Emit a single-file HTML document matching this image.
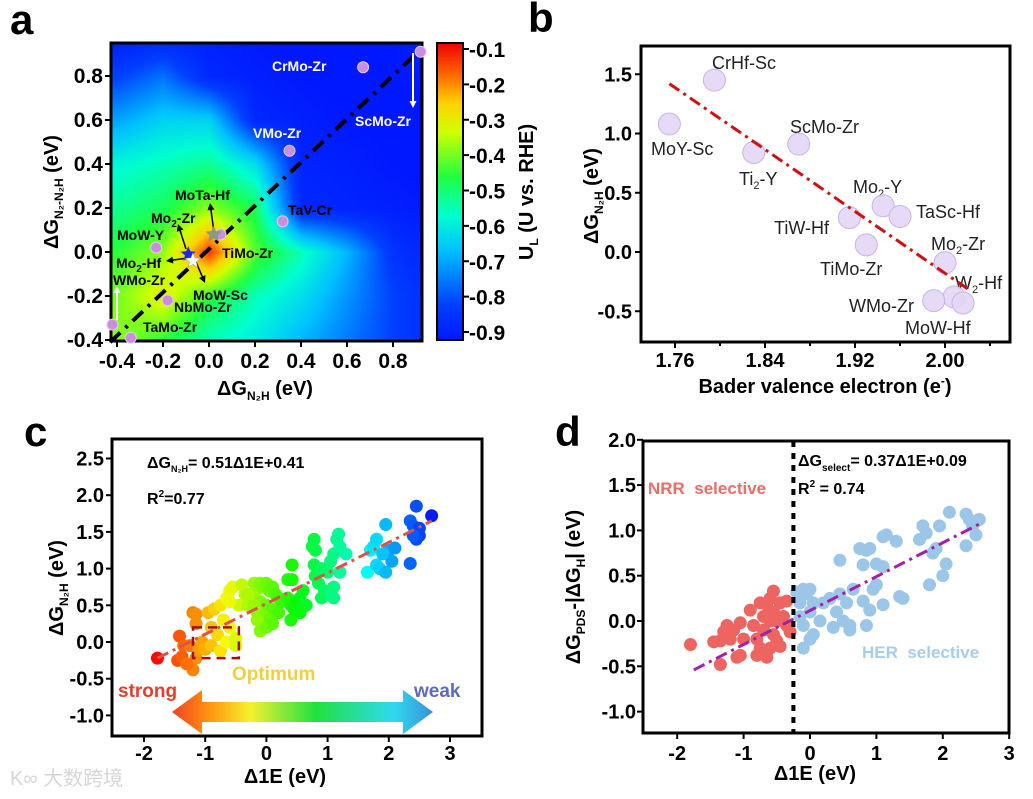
<!DOCTYPE html>
<html><head><meta charset="utf-8"><style>
html,body{margin:0;padding:0;background:#fff;width:1033px;height:799px;overflow:hidden}
#wrap{position:relative;width:1033px;height:799px}
canvas{position:absolute;left:111px;top:43px}
svg{position:absolute;left:0;top:0}
text{font-family:"Liberation Sans",Arial,sans-serif}
.b{font-weight:bold}
</style></head><body>
<div id="wrap">
<canvas id="heat" width="311" height="298"></canvas>
<svg id="svg" width="1033" height="799" viewBox="0 0 1033 799">
<defs>
<linearGradient id="cbar" x1="0" y1="1" x2="0" y2="0">
<stop offset="0" stop-color="#0018ff"/><stop offset="0.12" stop-color="#0040ff"/><stop offset="0.3" stop-color="#00c0ff"/><stop offset="0.42" stop-color="#00ffd0"/><stop offset="0.55" stop-color="#20ff40"/><stop offset="0.7" stop-color="#d0ff00"/><stop offset="0.8" stop-color="#ffd000"/><stop offset="0.9" stop-color="#ff6000"/><stop offset="1" stop-color="#f00000"/>
</linearGradient>
<linearGradient id="arrg" x1="0" y1="0" x2="1" y2="0">
<stop offset="0" stop-color="#f04020"/><stop offset="0.15" stop-color="#ff9a10"/><stop offset="0.3" stop-color="#f5f030"/><stop offset="0.55" stop-color="#20e040"/><stop offset="0.85" stop-color="#30d8f0"/><stop offset="1" stop-color="#3a90d8"/>
</linearGradient>
</defs>
<text x="10" y="34" font-size="42" class="b">a</text>
<text x="528" y="32" font-size="42" class="b">b</text>
<text x="24" y="446" font-size="42" class="b">c</text>
<text x="555" y="446" font-size="42" class="b">d</text>

<text x="265" y="395" font-size="20" class="b" text-anchor="middle">ΔG<tspan font-size="12" dy="5">N₂H</tspan><tspan dy="-5"> (eV)</tspan></text>
<text transform="translate(58,192) rotate(-90)" font-size="20" class="b" text-anchor="middle">ΔG<tspan font-size="12" dy="5">N₂-N₂H</tspan><tspan dy="-5"> (eV)</tspan></text>
<text transform="translate(533,192) rotate(-90)" font-size="20" class="b" text-anchor="middle">U<tspan font-size="12" dy="5">L</tspan><tspan dy="-5"> (U vs. RHE)</tspan></text>
<rect x="437" y="43" width="26" height="297" fill="url(#cbar)" stroke="#000" stroke-width="2"/>

<g font-size="14" class="b">
<text x="272" y="71" fill="#fff">CrMo-Zr</text>
<text x="355" y="126" fill="#fff">ScMo-Zr</text>
<text x="253" y="138" fill="#fff">VMo-Zr</text>
<text x="288" y="215">TaV-Cr</text>
<text x="175" y="200">MoTa-Hf</text>
<text x="151" y="223">Mo<tspan font-size="10" dy="4">2</tspan><tspan dy="-4">-Zr</tspan></text>
<text x="117" y="240">MoW-Y</text>
<text x="222" y="258">TiMo-Zr</text>
<text x="116" y="268">Mo<tspan font-size="10" dy="4">2</tspan><tspan dy="-4">-Hf</tspan></text>
<text x="113" y="285">WMo-Zr</text>
<text x="193" y="300">MoW-Sc</text>
<text x="174" y="312">NbMo-Zr</text>
<text x="143" y="332">TaMo-Zr</text>
</g>

<text x="825" y="393" font-size="20" class="b" text-anchor="middle">Bader valence electron (e<tspan font-size="12" dy="-8">-</tspan><tspan dy="8">)</tspan></text>
<text transform="translate(598,196) rotate(-90)" font-size="20" class="b" text-anchor="middle">ΔG<tspan font-size="12" dy="5">N₂H</tspan><tspan dy="-5"> (eV)</tspan></text>
<g font-size="18" fill="#222">
<text x="712" y="69">CrHf-Sc</text>
<text x="651" y="155">MoY-Sc</text>
<text x="739" y="185">Ti<tspan font-size="11" dy="4">2</tspan><tspan dy="-4">-Y</tspan></text>
<text x="790" y="133">ScMo-Zr</text>
<text x="853" y="193">Mo<tspan font-size="11" dy="4">2</tspan><tspan dy="-4">-Y</tspan></text>
<text x="916" y="218">TaSc-Hf</text>
<text x="774" y="234">TiW-Hf</text>
<text x="820" y="275">TiMo-Zr</text>
<text x="931" y="250">Mo<tspan font-size="11" dy="4">2</tspan><tspan dy="-4">-Zr</tspan></text>
<text x="955" y="289">W<tspan font-size="11" dy="4">2</tspan><tspan dy="-4">-Hf</tspan></text>
<text x="849" y="312">WMo-Zr</text>
<text x="905" y="334">MoW-Hf</text>
</g>

<text x="285" y="783" font-size="20" class="b" text-anchor="middle">Δ1E (eV)</text>
<text transform="translate(63,588) rotate(-90)" font-size="20" class="b" text-anchor="middle">ΔG<tspan font-size="12" dy="5">N₂H</tspan><tspan dy="-5"> (eV)</tspan></text>
<text x="147" y="468" font-size="16" class="b">ΔG<tspan font-size="9" dy="4">N₂H</tspan><tspan dy="-4">= 0.51Δ1E+0.41</tspan></text>
<text x="147" y="504" font-size="16" class="b">R<tspan font-size="10" dy="-7">2</tspan><tspan dy="7">=0.77</tspan></text>
<text x="232" y="680" font-size="19" class="b" fill="#f2cf3c">Optimum</text>
<text x="118" y="697" font-size="19" class="b" fill="#e0402c">strong</text>
<text x="414" y="697" font-size="19" class="b" fill="#5a6cc0">weak</text>
<path d="M172,712 L202,690 L202,702 L403,702 L403,690 L433,712 L403,734 L403,722 L202,722 L202,734 Z" fill="url(#arrg)"/>

<text x="815" y="780" font-size="20" class="b" text-anchor="middle">Δ1E (eV)</text>
<text transform="translate(580,587) rotate(-90)" font-size="20" class="b" text-anchor="middle">ΔG<tspan font-size="12" dy="5">PDS</tspan><tspan dy="-5">-|ΔG</tspan><tspan font-size="12" dy="5">H</tspan><tspan dy="-5">| (eV)</tspan></text>
<text x="798" y="466" font-size="16" class="b">ΔG<tspan font-size="10" dy="5">select</tspan><tspan dy="-5">= 0.37Δ1E+0.09</tspan></text>
<text x="798" y="494" font-size="16" class="b">R<tspan font-size="10" dy="-7">2</tspan><tspan dy="7"> = 0.74</tspan></text>
<text x="648" y="494" font-size="17" class="b" fill="#ee6b66">NRR&#160;&#160;selective</text>
<text x="862" y="658" font-size="17" class="b" fill="#a8cdeb">HER&#160;&#160;selective</text>

<text x="10" y="785" font-size="20" fill="#d6d6d6" font-family="Liberation Sans, Noto Sans CJK SC, sans-serif">K∞ 大数跨境</text>
<g id="marks"></g>
</svg>
</div>
<script>
const heatGridX = [-0.4,-0.2,0,0.2,0.4,0.6,0.8,1.0];
const heatGridY = [-0.4,-0.2,0,0.2,0.4,0.6,0.8,1.0];
const heatValues = [
 [-0.38,-0.45,-0.55,-0.60,-0.68,-0.75,-0.82,-0.88],
 [-0.40,-0.30,-0.45,-0.55,-0.62,-0.72,-0.82,-0.88],
 [-0.45,-0.38,-0.13,-0.42,-0.55,-0.68,-0.85,-0.90],
 [-0.52,-0.48,-0.38,-0.48,-0.88,-0.89,-0.90,-0.92],
 [-0.58,-0.55,-0.52,-0.62,-0.89,-0.90,-0.92,-0.93],
 [-0.70,-0.64,-0.64,-0.88,-0.90,-0.92,-0.93,-0.94],
 [-0.82,-0.76,-0.88,-0.90,-0.92,-0.93,-0.92,-0.90],
 [-0.92,-0.91,-0.90,-0.92,-0.93,-0.94,-0.92,-0.88]];
const aPointX = [0.67,0.92,0.35,0.32,0.05,-0.23,-0.18,-0.34,-0.42];
const aPointY = [0.84,0.91,0.46,0.14,0.08,0.02,-0.22,-0.39,-0.33];
const aStarX = [0.02,-0.09,-0.07];
const aStarY = [0.08,-0.01,-0.04];
const aStarColor = ['#8a9a80','#1a2ae0','#ffffff'];
const aTicks = [-0.4,-0.2,0.0,0.2,0.4,0.6,0.8];
const aTickLabels = ['-0.4','-0.2','0.0','0.2','0.4','0.6','0.8'];
const cbTicks = [-0.1,-0.2,-0.3,-0.4,-0.5,-0.6,-0.7,-0.8,-0.9];

const bX = [1.755,1.795,1.83,1.87,1.915,1.93,1.945,1.96,2.0,2.008,1.99,2.016];
const bY = [1.08,1.45,0.84,0.91,0.29,0.06,0.39,0.30,-0.09,-0.38,-0.41,-0.43];
const bFitX = [1.755,2.02];
const bFitY = [1.42,-0.31];
const bXTicks = [1.76,1.84,1.92,2.00];
const bXTickLabels = ['1.76','1.84','1.92','2.00'];
const bYTicks = [-0.5,0.0,0.5,1.0,1.5];
const bYTickLabels = ['-0.5','0.0','0.5','1.0','1.5'];

const cX = [-1.78,-1.42,-1.35,-1.45,-1.38,-1.2,-1.15,-1.15,-1.25,-1.15,-1.1,-1.2,-1.3,-1.05,-1.0,
 -0.95,-0.85,-0.9,-0.8,-0.9,-0.75,-0.65,-0.6,-0.5,-0.5,-0.7,-0.75,-0.65,-0.6,-0.55,-0.4,-0.35,-0.45,-0.6,-0.3,
 -0.2,-0.15,-0.1,-0.05,0.0,0.05,0.1,0.15,0.2,-0.2,-0.1,0.0,0.1,-0.15,-0.05,0.05,-0.15,-0.1,0.0,0.1,-0.2,0.2,0.25,-0.3,
 0.35,0.42,0.42,0.35,0.4,0.4,0.45,0.5,0.55,0.6,0.65,0.55,0.75,0.78,0.8,0.78,0.8,0.85,0.9,0.95,0.9,1.0,1.05,1.1,1.15,1.18,1.1,1.05,1.1,1.2,1.3,1.2,
 1.65,1.7,1.75,1.8,1.8,1.85,1.95,1.95,2.0,2.05,2.1,1.9,
 2.35,2.4,2.45,2.5,2.45,2.5,2.35,2.4,2.7];
const cY = [-0.22,0.08,-0.05,-0.25,-0.2,0.4,0.38,0.25,-0.05,-0.22,-0.1,-0.38,-0.3,0.0,-0.1,
 0.4,0.45,0.2,0.1,-0.05,-0.12,0.0,0.2,0.05,-0.05,0.3,0.5,0.6,0.7,0.75,0.78,0.65,0.5,0.55,0.5,
 0.8,0.72,0.8,0.75,0.8,0.7,0.75,0.65,0.6,0.6,0.55,0.5,0.45,0.4,0.35,0.3,0.3,0.15,0.2,0.25,0.5,0.4,0.55,0.65,
 0.85,0.85,1.05,0.6,0.5,0.3,0.45,0.55,0.6,0.7,0.5,0.4,1.3,1.4,1.25,1.05,0.9,0.8,1.0,0.7,0.6,0.95,1.1,1.2,1.4,1.47,0.75,0.65,0.6,0.95,1.2,1.3,
 0.95,1.25,1.3,1.4,1.05,1.0,0.95,1.6,1.25,1.1,1.28,1.2,
 1.65,1.58,1.85,1.55,1.4,1.45,1.07,1.45,1.72];
const cFitX = [-1.78,2.7];
const cFitY = [-0.22,1.65];
const cBoxX = [-1.2,-0.45];
const cBoxY = [-0.22,0.2];
const cXTicks = [-2,-1,0,1,2,3];
const cYTicks = [-1.0,-0.5,0.0,0.5,1.0,1.5,2.0,2.5];
const cYTickLabels = ['-1.0','-0.5','0.0','0.5','1.0','1.5','2.0','2.5'];

const dRedX = [-1.8,-1.45,-1.35,-1.3,-1.25,-1.35,-1.2,-1.15,-1.1,-1.05,-1.05,-1.0,-0.9,-0.85,-0.8,-0.8,-0.75,-0.7,-0.7,-0.65,-0.65,-0.6,-0.6,-0.55,-0.55,-0.55,-0.5,-0.5,-0.45,-0.45,-0.4,-0.35,-0.3,-0.35,-0.75,-0.6];
const dRedY = [-0.26,-0.23,-0.22,-0.12,-0.05,-0.48,-0.2,-0.1,-0.4,-0.38,-0.02,-0.2,0.12,-0.05,-0.2,-0.38,0.2,0.05,-0.1,0.18,-0.4,0.25,-0.3,0.33,0.1,-0.15,0.0,-0.22,-0.28,0.2,0.05,0.22,-0.12,-0.05,-0.3,0.0];
const dBlueX = [-0.2,-0.15,-0.1,-0.05,0.0,-0.15,-0.1,0.0,0.05,0.05,0.0,-0.1,0.15,0.2,0.3,0.35,0.4,0.45,0.45,0.5,0.55,0.6,0.6,0.65,0.75,0.8,0.8,0.85,0.9,0.85,0.9,0.95,1.0,1.0,1.1,1.1,1.1,1.15,1.3,1.35,1.4,1.65,1.7,1.75,1.8,1.85,1.9,1.95,2.0,2.05,2.1,2.35,2.35,2.4,2.45,2.5,2.5,2.55];
const dBlueY = [0.32,0.2,0.35,0.3,0.35,0.05,-0.05,0.1,0.2,-0.15,-0.2,-0.3,0.0,0.2,0.25,-0.07,0.1,0.67,0.3,0.0,0.2,-0.05,-0.1,0.35,0.8,0.22,0.62,0.78,0.8,-0.05,0.12,0.35,0.4,0.63,0.6,0.18,0.93,0.95,0.88,0.27,0.25,0.9,1.05,0.97,0.4,0.75,0.8,1.05,0.5,0.63,1.2,0.83,1.18,1.12,1.05,1.1,0.95,1.12];
const dFitX = [-1.75,2.55];
const dFitY = [-0.54,1.07];
const dDivider = -0.25;
const dXTicks = [-2,-1,0,1,2,3];
const dYTicks = [-1.0,-0.5,0.0,0.5,1.0,1.5,2.0];
const dYTickLabels = ['-1.0','-0.5','0.0','0.5','1.0','1.5','2.0'];

const NS='http://www.w3.org/2000/svg';
const root=document.getElementById('marks');
function mk(tag,attrs,parent){const e=document.createElementNS(NS,tag);for(const k in attrs)e.setAttribute(k,attrs[k]);(parent||root).appendChild(e);return e;}
// colormap identical to colorbar gradient
const cmapStops=[[0,0x00,0x18,0xff],[0.12,0x00,0x40,0xff],[0.3,0x00,0xc0,0xff],[0.42,0x00,0xff,0xd0],[0.55,0x20,0xff,0x40],[0.7,0xd0,0xff,0x00],[0.8,0xff,0xd0,0x00],[0.9,0xff,0x60,0x00],[1,0xf0,0x00,0x00]];
function jet(v){let o=(v+0.92)/0.837;o=Math.max(0,Math.min(1,o));
 for(let i=1;i<cmapStops.length;i++){if(o<=cmapStops[i][0]){const a=cmapStops[i-1],b=cmapStops[i];const f=(o-a[0])/(b[0]-a[0]);
  return [a[1]+(b[1]-a[1])*f,a[2]+(b[2]-a[2])*f,a[3]+(b[3]-a[3])*f];}}
 return [240,0,0];}

const axA={x:v=>209+v*230,y:v=>252-v*220};
(function(){
 const cv=document.getElementById('heat');const ctx=cv.getContext('2d');
 const img=ctx.createImageData(cv.width,cv.height);
 for(let py=0;py<cv.height;py++){for(let px=0;px<cv.width;px++){
  const xv=(px+111-209)/230, yv=(252-(py+43))/220;
  let fx=(xv-heatGridX[0])/0.2, fy=(yv-heatGridY[0])/0.2;
  fx=Math.max(0,Math.min(heatGridX.length-1.0001,fx));fy=Math.max(0,Math.min(heatGridY.length-1.0001,fy));
  const i=Math.floor(fx),j=Math.floor(fy),u=fx-i,w=fy-j;
  const v=heatValues[j][i]*(1-u)*(1-w)+heatValues[j][i+1]*u*(1-w)+heatValues[j+1][i]*(1-u)*w+heatValues[j+1][i+1]*u*w;
  const col=jet(v);const k=(py*cv.width+px)*4;
  img.data[k]=col[0];img.data[k+1]=col[1];img.data[k+2]=col[2];img.data[k+3]=255;}}
 ctx.putImageData(img,0,0);
})();
let fr=mk('rect',{x:111,y:43,width:311,height:298,fill:'none',stroke:'#000','stroke-width':3});


let ln=mk('line',{x1:axA.x(-0.43),y1:axA.y(-0.41),x2:axA.x(0.92),y2:axA.y(0.92),stroke:'#000','stroke-width':4,'stroke-dasharray':'14 7 3 7'});


function arrow(x1,y1,x2,y2,color,w,name){
 const g=mk('g',{});
 
 
 const a=Math.atan2(y2-y1,x2-x1),h=7;
 mk('line',{x1,y1,x2:x2-Math.cos(a)*h*0.8,y2:y2-Math.sin(a)*h*0.8,stroke:color,'stroke-width':w},g);
 mk('polygon',{points:`${x2},${y2} ${x2-h*Math.cos(a)+h*0.5*Math.sin(a)},${y2-h*Math.sin(a)-h*0.5*Math.cos(a)} ${x2-h*Math.cos(a)-h*0.5*Math.sin(a)},${y2-h*Math.sin(a)+h*0.5*Math.cos(a)}`,fill:color},g);}
arrow(413,53,413,108,'#fff',2,'arrow-scmo-zr');
arrow(117,320,117,286,'#fff',2,'arrow-bottom-left');
arrow(186,249,178,224,'#000',1.5,'arrow-mo2-zr');
arrow(214,232,210,203,'#000',1.5,'arrow-mota-hf');
arrow(188,258,166,261,'#000',1.5,'arrow-mo2-hf');
arrow(196,262,205,283,'#000',1.5,'arrow-mow-sc');
for(let i=0;i<aPointX.length;i++){
 const c=mk('circle',{cx:axA.x(aPointX[i]),cy:axA.y(aPointY[i]),r:5.5,fill:'#c88ee0',stroke:'#e8c8f4','stroke-width':1});
 
 
}
function star(cx,cy,r,fill){let p=[];for(let k=0;k<10;k++){const rr=k%2?r*0.45:r;const an=-Math.PI/2+k*Math.PI/5;p.push((cx+rr*Math.cos(an)).toFixed(1)+','+(cy+rr*Math.sin(an)).toFixed(1));}return mk('polygon',{points:p.join(' '),fill:fill,stroke:'#888','stroke-width':0.5});}
for(let i=0;i<aStarX.length;i++){
 const s=star(axA.x(aStarX[i]),axA.y(aStarY[i]),8,aStarColor[i]);
 
 
}
for(let i=0;i<aTicks.length;i++){
 const t=mk('line',{x1:axA.x(aTicks[i]),y1:341,x2:axA.x(aTicks[i]),y2:347,stroke:'#000','stroke-width':2});
 
 
 const l=mk('text',{x:axA.x(aTicks[i]),y:368,'font-size':21,'font-weight':'bold','text-anchor':'middle'});
 l.textContent=aTickLabels[i];
 
 
 const ty=mk('line',{x1:105,y1:axA.y(aTicks[i]),x2:111,y2:axA.y(aTicks[i]),stroke:'#000','stroke-width':2});
 
 
 const ly=mk('text',{x:103,y:axA.y(aTicks[i])+7,'font-size':21,'font-weight':'bold','text-anchor':'end'});
 ly.textContent=aTickLabels[i];
 
 
}
const cbY=v=>49+(-0.1-v)/0.8*283;
for(const v of cbTicks){
 const t=mk('line',{x1:463,y1:cbY(v),x2:469,y2:cbY(v),stroke:'#000','stroke-width':2});
 
 
 const l=mk('text',{x:469,y:cbY(v)+8,'font-size':21,'font-weight':'bold'});
 l.textContent=v.toFixed(1);
 
 
}

const axB={x:v=>675+(v-1.76)*1125,y:v=>252-v*118.5};
fr=mk('rect',{x:641,y:46,width:369,height:296,fill:'none',stroke:'#000','stroke-width':3});


for(let i=0;i<bX.length;i++){
 const c=mk('circle',{cx:axB.x(bX[i]),cy:axB.y(bY[i]),r:11,fill:'#e4d6f6',stroke:'#c8b2ea','stroke-width':1,'fill-opacity':0.9});
 
 
}
ln=mk('line',{x1:axB.x(bFitX[0]),y1:axB.y(bFitY[0]),x2:axB.x(bFitX[1]),y2:axB.y(bFitY[1]),stroke:'#d01010','stroke-width':3,'stroke-dasharray':'12 5 3 5'});


for(let i=0;i<bXTicks.length;i++){
 const t=mk('line',{x1:axB.x(bXTicks[i]),y1:342,x2:axB.x(bXTicks[i]),y2:348,stroke:'#000','stroke-width':2});
 
 
 const m=mk('line',{x1:axB.x(bXTicks[i]+0.04),y1:342,x2:axB.x(bXTicks[i]+0.04),y2:346,stroke:'#000','stroke-width':2});
 
 
 const l=mk('text',{x:axB.x(bXTicks[i]),y:367,'font-size':20,'font-weight':'bold','text-anchor':'middle'});
 l.textContent=bXTickLabels[i];
 
 
}
for(let i=0;i<bYTicks.length;i++){
 const t=mk('line',{x1:635,y1:axB.y(bYTicks[i]),x2:641,y2:axB.y(bYTicks[i]),stroke:'#000','stroke-width':2});
 
 
 const l=mk('text',{x:632,y:axB.y(bYTicks[i])+7,'font-size':20,'font-weight':'bold','text-anchor':'end'});
 l.textContent=bYTickLabels[i];
 
 
}

const axC={x:v=>266.4+61.2*v,y:v=>642-73.4*v};
fr=mk('rect',{x:112,y:439,width:370,height:297,fill:'none',stroke:'#000','stroke-width':3});


for(let i=0;i<cX.length;i++){
 const hue=Math.max(0,Math.min(235,(cX[i]+1.8)/4.5*235));
 const c=mk('circle',{cx:axC.x(cX[i]),cy:axC.y(cY[i]),r:6.5,fill:`hsl(${hue},95%,50%)`});
 
 
}
ln=mk('line',{x1:axC.x(cFitX[0]),y1:axC.y(cFitY[0]),x2:axC.x(cFitX[1]),y2:axC.y(cFitY[1]),stroke:'#e0504a','stroke-width':3,'stroke-dasharray':'12 5 3 5'});


let bx=mk('rect',{x:axC.x(cBoxX[0]),y:axC.y(cBoxY[1]),width:axC.x(cBoxX[1])-axC.x(cBoxX[0]),height:axC.y(cBoxY[0])-axC.y(cBoxY[1]),fill:'none',stroke:'#a01010','stroke-width':2.5,'stroke-dasharray':'9 6'});


for(const v of cXTicks){
 const t=mk('line',{x1:axC.x(v),y1:736,x2:axC.x(v),y2:742,stroke:'#000','stroke-width':2});
 
 
 const l=mk('text',{x:axC.x(v),y:760,'font-size':20,'font-weight':'bold','text-anchor':'middle'});
 l.textContent=String(v);
 
 
}
for(let i=0;i<cYTicks.length;i++){
 const t=mk('line',{x1:106,y1:axC.y(cYTicks[i]),x2:112,y2:axC.y(cYTicks[i]),stroke:'#000','stroke-width':2});
 
 
 const l=mk('text',{x:104,y:axC.y(cYTicks[i])+7,'font-size':20,'font-weight':'bold','text-anchor':'end'});
 l.textContent=cYTickLabels[i];
 
 
}

const axD={x:v=>810+66.4*v,y:v=>621-90.6*v};
fr=mk('rect',{x:643,y:441,width:366,height:292,fill:'none',stroke:'#000','stroke-width':3});


for(let i=0;i<dRedX.length;i++){
 const c=mk('circle',{cx:axD.x(dRedX[i]),cy:axD.y(dRedY[i]),r:6.5,fill:'#ee6460'});
 
 
}
for(let i=0;i<dBlueX.length;i++){
 const c=mk('circle',{cx:axD.x(dBlueX[i]),cy:axD.y(dBlueY[i]),r:6.5,fill:'#9cc6e8'});
 
 
}
ln=mk('line',{x1:axD.x(dFitX[0]),y1:axD.y(dFitY[0]),x2:axD.x(dFitX[1]),y2:axD.y(dFitY[1]),stroke:'#a020a8','stroke-width':3,'stroke-dasharray':'12 5 3 5'});


ln=mk('line',{x1:axD.x(dDivider),y1:441,x2:axD.x(dDivider),y2:733,stroke:'#000','stroke-width':4,'stroke-dasharray':'6 6'});


for(const v of dXTicks){
 const t=mk('line',{x1:axD.x(v),y1:733,x2:axD.x(v),y2:739,stroke:'#000','stroke-width':2});
 
 
 const l=mk('text',{x:axD.x(v),y:760,'font-size':20,'font-weight':'bold','text-anchor':'middle'});
 l.textContent=String(v);
 
 
}
for(let i=0;i<dYTicks.length;i++){
 const t=mk('line',{x1:637,y1:axD.y(dYTicks[i]),x2:643,y2:axD.y(dYTicks[i]),stroke:'#000','stroke-width':2});
 
 
 const l=mk('text',{x:636,y:axD.y(dYTicks[i])+7,'font-size':20,'font-weight':'bold','text-anchor':'end'});
 l.textContent=dYTickLabels[i];
 
 
}
</script>
</body></html>
